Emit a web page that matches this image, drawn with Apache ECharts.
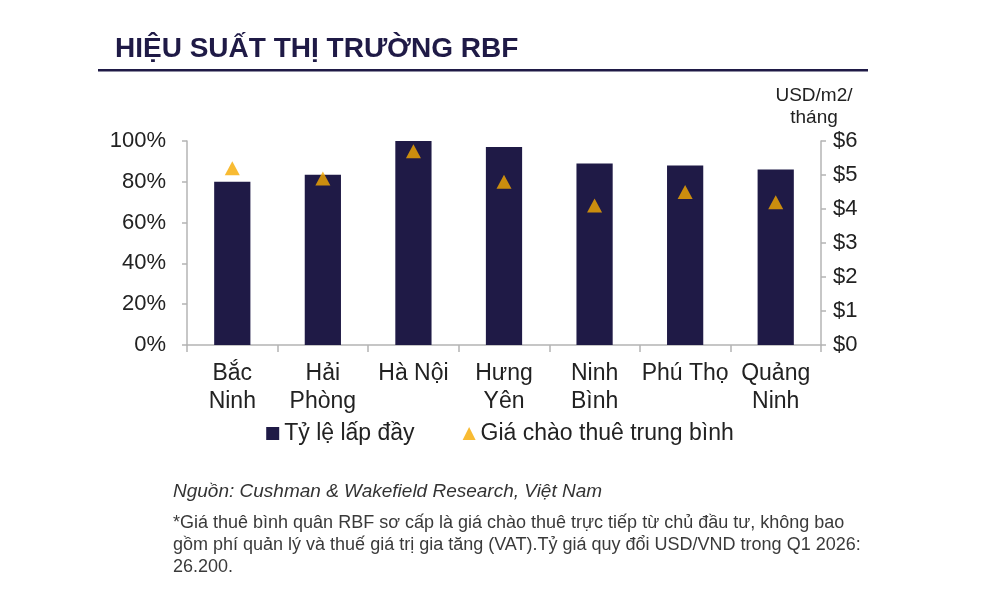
<!DOCTYPE html>
<html>
<head>
<meta charset="utf-8">
<style>
  html, body { margin: 0; padding: 0; background: #fff; }
  #main { width: 1000px; height: 600px; }
</style>
<script src="https://cdn.jsdelivr.net/npm/echarts@6/dist/echarts.min.js"></script>
</head>
<body>
<div id="main"></div>
<script>
// du lieu
var categories = ['Bắc\nNinh', 'Hải\nPhòng', 'Hà Nội', 'Hưng\nYên', 'Ninh\nBình', 'Phú Thọ', 'Quảng\nNinh'];
var occupancy = [80, 83.5, 100, 97, 89, 88, 86];      // Tỷ lệ lấp đầy (%)
var askingRent = [5.2, 4.9, 5.7, 4.8, 4.1, 4.5, 4.2];  // USD/m2/tháng

var navy = '#1f1a46';
var gold = '#f6aa00';
var axisGray = '#b4b4b4';
var font = 'Liberation Sans, Arial, sans-serif';

var chart = echarts.init(document.getElementById('main'));

var option = {
  backgroundColor: '#fff',
  animation: false,
  textStyle: { fontFamily: font },
  title: {
    text: 'HIỆU SUẤT THỊ TRƯỜNG RBF',
    left: 110,
    top: 30,
    textStyle: { color: navy, fontSize: 28, fontWeight: 'bold', fontFamily: font }
  },
  legend: {
    top: 417,
    left: 'center',
    itemGap: 48,
    itemWidth: 13,
    itemHeight: 13,
    textStyle: { fontSize: 23, color: '#222', fontFamily: font },
    data: [
      { name: 'Tỷ lệ lấp đầy', icon: 'rect' },
      { name: 'Giá chào thuê trung bình', icon: 'triangle' }
    ]
  },
  grid: { left: 187, right: 179, top: 141, bottom: 255 },
  xAxis: {
    type: 'category',
    data: categories,
    boundaryGap: true,
    axisLine: { lineStyle: { color: axisGray, width: 1.5 } },
    axisTick: { show: true, length: 7, lineStyle: { color: axisGray, width: 1.5 } },
    axisLabel: { interval: 0, fontSize: 23, color: '#222', lineHeight: 28, margin: 15 }
  },
  yAxis: [
    {
      type: 'value',
      min: 0, max: 100, interval: 20,
      splitLine: { show: false },
      axisLine: { show: true, lineStyle: { color: axisGray, width: 1.5 } },
      axisTick: { show: true, length: 5, lineStyle: { color: axisGray, width: 1.5 } },
      axisLabel: { formatter: '{value}%', fontSize: 22, color: '#222', margin: 21 }
    },
    {
      type: 'value',
      min: 0, max: 6, interval: 1,
      position: 'right',
      name: 'USD/m2/\ntháng',
      nameLocation: 'end',
      nameGap: 12,
      nameTextStyle: { fontSize: 19, color: '#222', align: 'center', lineHeight: 22, padding: [0, 14, 0, 0] },
      splitLine: { show: false },
      axisLine: { show: true, lineStyle: { color: axisGray, width: 1.5 } },
      axisTick: { show: true, length: 5, lineStyle: { color: axisGray, width: 1.5 } },
      axisLabel: { formatter: '${value}', fontSize: 22, color: '#222', margin: 12 }
    }
  ],
  series: [
    {
      name: 'Tỷ lệ lấp đầy',
      type: 'bar',
      data: occupancy,
      barWidth: '40%',
      itemStyle: { color: navy }
    },
    {
      name: 'Giá chào thuê trung bình',
      type: 'scatter',
      yAxisIndex: 1,
      data: askingRent,
      symbol: 'triangle',
      symbolSize: [15, 14],
      itemStyle: { color: gold }
    }
  ],
  graphic: [
    {
      type: 'rect',
      shape: { x: 98, y: 69, width: 770, height: 2.5 },
      style: { fill: navy }
    },
    {
      type: 'text',
      left: 173, top: 482,
      style: {
        text: 'Nguồn: Cushman & Wakefield Research, Việt Nam',
        font: 'italic 19px Liberation Sans, Arial, sans-serif',
        fill: '#333'
      }
    },
    {
      type: 'text',
      left: 173, top: 512,
      style: {
        text: '*Giá thuê bình quân RBF sơ cấp là giá chào thuê trực tiếp từ chủ đầu tư, không bao\n' +
              'gồm phí quản lý và thuế giá trị gia tăng (VAT).Tỷ giá quy đổi USD/VND trong Q1 2026:\n' +
              '26.200.',
        font: '18px Liberation Sans, Arial, sans-serif',
        lineHeight: 22,
        fill: '#3a3a3a'
      }
    }
  ]
};

chart.setOption(option);
</script>
</body>
</html>
